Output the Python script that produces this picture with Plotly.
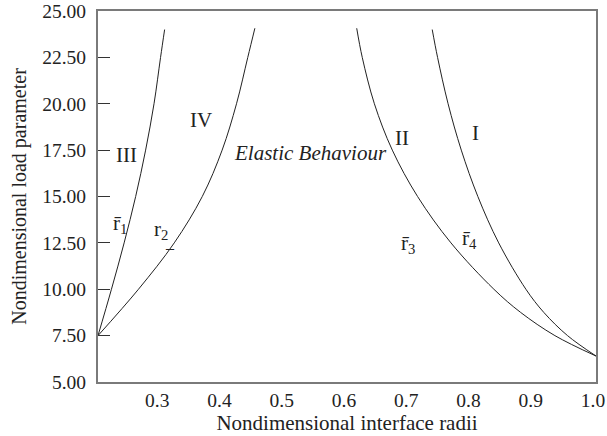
import plotly.graph_objects as go

# Boundary curves (nondimensional interface radius vs load parameter)
r1_y = [7.5, 10.0, 12.5, 15.0, 17.5, 20.0, 22.5, 24.0]
r1_x = [0.200, 0.2216, 0.242, 0.2605, 0.2765, 0.290, 0.3005, 0.307]

r2_y = [7.5, 10.0, 12.5, 15.0, 17.5, 20.0, 22.5, 24.07]
r2_x = [0.200, 0.265, 0.3225, 0.3675, 0.3994, 0.4225, 0.4406, 0.452]

r3_y = [6.4, 7.5, 8.75, 10.0, 12.5, 15.0, 17.5, 20.0, 22.5, 24.07]
r3_x = [1.0, 0.934, 0.879, 0.836, 0.767, 0.7134, 0.6728, 0.644, 0.6245, 0.6156]

r4_y = [6.4, 7.5, 8.75, 10.0, 12.5, 15.0, 17.5, 20.0, 22.5, 24.0]
r4_x = [1.0, 0.9543, 0.9162, 0.8874, 0.8437, 0.8102, 0.7836, 0.7624, 0.7455, 0.7369]

x_ticks = [0.3, 0.4, 0.5, 0.6, 0.7, 0.8, 0.9, 1.0]
y_ticks = [5.0, 7.5, 10.0, 12.5, 15.0, 17.5, 20.0, 22.5, 25.0]

region_labels = ["III", "IV", "II", "I"]
region_x = [0.246, 0.3655, 0.688, 0.807]
region_y = [17.26, 19.14, 18.16, 18.44]

curve_labels = ["r\u0304<sub>1</sub>", "r<sub>2</sub>", "r\u0304<sub>3</sub>", "r\u0304<sub>4</sub>"]
curve_lx = [0.235, 0.301, 0.698, 0.796]
curve_ly = [13.5, 13.2, 12.42, 12.69]

FONT = "Liberation Serif"
INK = "#222222"
fig = go.Figure()
for xs, ys in [(r1_x, r1_y), (r2_x, r2_y), (r3_x, r3_y), (r4_x, r4_y)]:
    fig.add_trace(go.Scatter(x=xs, y=ys, mode="lines",
                             line=dict(color=INK, width=1, shape="spline", smoothing=1.0),
                             showlegend=False, hoverinfo="skip"))

for t, x, y in zip(region_labels, region_x, region_y):
    fig.add_annotation(x=x, y=y, text=t, showarrow=False,
                       font=dict(family=FONT, size=21, color=INK))
for t, x, y in zip(curve_labels, curve_lx, curve_ly):
    fig.add_annotation(x=x, y=y, text=t, showarrow=False,
                       font=dict(family=FONT, size=21, color=INK))
fig.add_annotation(x=0.316, y=12.5, text="_", showarrow=False,
                   font=dict(family=FONT, size=16, color=INK))
fig.add_annotation(x=0.5406, y=17.37, text="<i>Elastic Behaviour</i>", showarrow=False,
                   font=dict(family=FONT, size=21, color=INK))

fig.update_layout(
    width=607, height=436,
    margin=dict(l=98, r=11, t=11, b=54),
    plot_bgcolor="white", paper_bgcolor="white",
    font=dict(family=FONT, size=19, color=INK),
    xaxis=dict(range=[0.2, 1.0], tickvals=x_ticks, ticktext=[f"{v:.1f}" for v in x_ticks],
               ticks="", showgrid=False, zeroline=False, automargin=False,
               ticklabeloverflow="allow", ticklabelshift=-3,
               showline=True, mirror=True, linecolor="#7a7a7a", linewidth=2,
               tickfont=dict(family=FONT, size=19.5),
               title=dict(text="Nondimensional interface radii", standoff=2,
                          font=dict(family=FONT, size=21))),
    yaxis=dict(range=[5, 25], tickvals=y_ticks, ticktext=[f"{v:.2f}" for v in y_ticks],
               ticks="inside", ticklen=12, tickcolor="#333333", tickwidth=1,
               ticklabelstandoff=6, automargin=False, ticklabeloverflow="allow",
               tickfont=dict(family=FONT, size=19.5),
               showgrid=False, zeroline=False,
               showline=True, mirror=True, linecolor="#7a7a7a", linewidth=2,
               title=dict(text="Nondimensional load parameter", standoff=10,
                          font=dict(family=FONT, size=20))),
)

fig.write_html("out.html")
